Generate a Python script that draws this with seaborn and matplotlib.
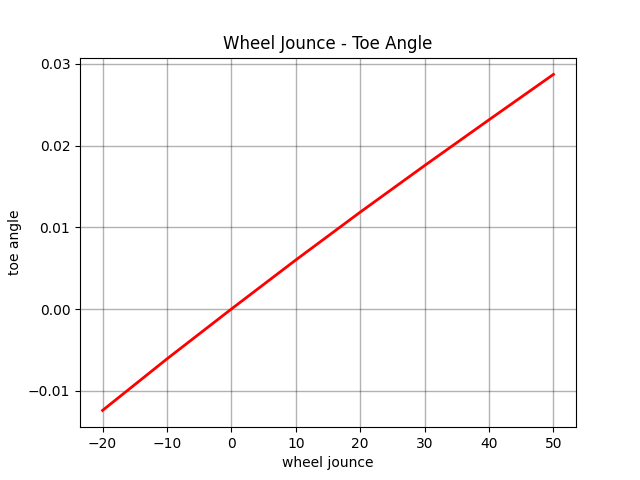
import numpy as np
import pandas as pd
import matplotlib
matplotlib.use("Agg")
import matplotlib.pyplot as plt
import seaborn as sns

# Valores
wheel_jounce = [-20, -10, 0, 10, 20, 30, 40, 50]
toe_angle = [-0.0124, -0.0061, 0.0000, 0.0060, 0.01185, 0.01755, 0.02315, 0.0287]

df = pd.DataFrame({"wheel jounce": wheel_jounce, "toe angle": toe_angle})

fig, ax = plt.subplots(figsize=(6.4, 4.8), dpi=100)
sns.lineplot(data=df, x="wheel jounce", y="toe angle", color="red", linewidth=2, ax=ax)
ax.grid(True, color="k", alpha=0.3, linewidth=1)
ax.set_title("Wheel Jounce - Toe Angle")
ax.set_xlabel("wheel jounce")
ax.set_ylabel("toe angle")

fig.savefig("out.png", dpi=100)
